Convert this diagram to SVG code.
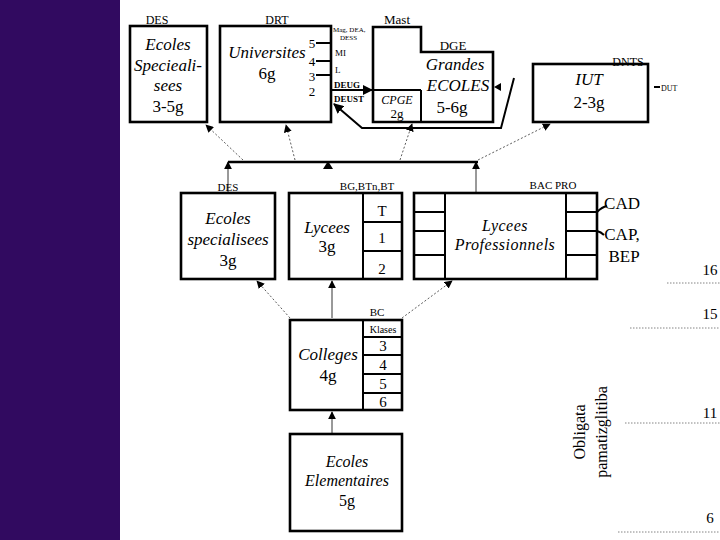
<svg xmlns="http://www.w3.org/2000/svg" width="720" height="540" viewBox="0 0 720 540" font-family="'Liberation Serif', 'Times New Roman', serif">
<style>
text{font-family:'Liberation Serif','Times New Roman',serif;fill:#000;text-anchor:middle}
.box{fill:#fff;stroke:#000;stroke-width:2.6}
.ln{fill:none;stroke:#000;stroke-width:2}
.i{font-style:italic}
.big{font-size:17px}
.md{font-size:15px}
.sm{font-size:11px}
.st{text-anchor:start}
.thin{fill:none;stroke:#000;stroke-width:0.8}
.dot{fill:none;stroke:#333;stroke-width:0.8;stroke-dasharray:2,2}
.grade{fill:none;stroke:#666;stroke-width:0.8;stroke-dasharray:1.5,1.5}
</style>
<defs>
<marker id="ah" viewBox="0 0 10 10" refX="9" refY="5" markerWidth="8" markerHeight="8" markerUnits="userSpaceOnUse" orient="auto"><path d="M0,0 L10,5 L0,10 z" fill="#000"/></marker>
<marker id="ahb" viewBox="0 0 10 10" refX="9" refY="5" markerWidth="10" markerHeight="10" markerUnits="userSpaceOnUse" orient="auto"><path d="M0,0 L10,5 L0,10 z" fill="#000"/></marker>
</defs>
<rect x="0" y="0" width="720" height="540" fill="#fff"/>
<rect x="0" y="0" width="120" height="540" fill="#310a60"/>

<g id="connectors">
<line x1="228" y1="162" x2="478" y2="162" stroke="#000" stroke-width="2.6"/>
<line x1="228" y1="193" x2="228" y2="162" class="thin" marker-end="url(#ah)"/>
<polygon points="323,169 333,169 328,161" fill="#000"/>
<line x1="476" y1="193" x2="476" y2="162" class="thin" marker-end="url(#ah)"/>
<line x1="243" y1="160" x2="206" y2="125" class="dot" marker-end="url(#ah)"/>
<line x1="295" y1="160" x2="286" y2="125" class="dot" marker-end="url(#ah)"/>
<line x1="400" y1="160" x2="412" y2="124" class="dot" marker-end="url(#ah)"/>
<line x1="478" y1="160" x2="550" y2="124" class="dot" marker-end="url(#ah)"/>
<line x1="332" y1="318" x2="332" y2="281" class="thin" marker-end="url(#ah)"/>
<line x1="290" y1="318" x2="257" y2="281" class="dot" marker-end="url(#ah)"/>
<line x1="402" y1="318" x2="452" y2="281" class="dot" marker-end="url(#ah)"/>
<line x1="332" y1="434" x2="332" y2="412" class="thin" marker-end="url(#ah)"/>
<line x1="316" y1="90" x2="372" y2="90" class="ln" marker-end="url(#ahb)"/>
<polyline points="514,78 501,128 362,128 334,104" class="ln" stroke-width="2.6" marker-end="url(#ahb)"/>
<polygon points="494,87 501,83 501,91" fill="#000"/>
</g>

<g id="ecoles-specieali">
<rect x="130" y="26" width="77" height="96" class="box"/>
<text x="157" y="24" font-size="12">DES</text>
<text x="168" y="50" class="i big">Ecoles</text>
<text x="168" y="71" class="i big">Specieali-</text>
<text x="168" y="91" class="i big">sees</text>
<text x="168" y="112" class="big">3-5g</text>
</g>

<g id="universites">
<rect x="220" y="26" width="111" height="96" class="box"/>
<text x="277" y="24" font-size="12">DRT</text>
<text x="267" y="58" class="i big">Universites</text>
<text x="267" y="79" class="big">6g</text>
<line x1="316" y1="43" x2="331" y2="43" class="ln"/>
<line x1="316" y1="61" x2="331" y2="61" class="ln"/>
<line x1="316" y1="75" x2="331" y2="75" class="ln"/>
<text x="312" y="48" font-size="13">5</text>
<text x="312" y="66" font-size="13">4</text>
<text x="312" y="81" font-size="13">3</text>
<text x="312" y="96" font-size="13">2</text>
<text x="333" y="32" font-size="7" class="st">Mag, DEA,</text>
<text x="340" y="40" font-size="7" class="st">DESS</text>
<text x="335" y="56" font-size="9" class="st">MI</text>
<text x="335" y="73" font-size="9" class="st">L</text>
<text x="334" y="88" font-size="9" font-weight="bold" class="st">DEUG</text>
<text x="334" y="102" font-size="9" font-weight="bold" class="st">DEUST</text>
</g>

<g id="grandes-ecoles">
<polygon points="373,27 421,27 421,52 493,52 493,122 373,122" class="box"/>
<line x1="373" y1="90" x2="421" y2="90" class="ln"/>
<line x1="421" y1="90" x2="421" y2="122" class="ln"/>
<text x="397" y="24" font-size="13">Mast</text>
<text x="453" y="50" font-size="13">DGE</text>
<text x="455" y="70" class="i big">Grandes</text>
<text x="458" y="91" class="i big">ECOLES</text>
<text x="452" y="113" class="big">5-6g</text>
<text x="397" y="104" class="i" font-size="12">CPGE</text>
<text x="397" y="118" font-size="13">2g</text>
</g>

<g id="iut">
<rect x="533" y="64" width="115" height="58" class="box"/>
<text x="628" y="66" font-size="12">DNTS</text>
<text x="589" y="85" class="i big">IUT</text>
<text x="589" y="108" class="big">2-3g</text>
<line x1="654" y1="87" x2="660" y2="87" class="ln"/>
<text x="661" y="91" font-size="8" class="st">DUT</text>
</g>

<g id="ecoles-specialisees">
<rect x="181" y="193" width="94" height="86" class="box"/>
<text x="228" y="191" class="sm">DES</text>
<text x="228" y="224" class="i big">Ecoles</text>
<text x="228" y="245" class="i big">specialisees</text>
<text x="228" y="266" class="big">3g</text>
</g>

<g id="lycees">
<rect x="289" y="193" width="113" height="86" class="box"/>
<line x1="363" y1="193" x2="363" y2="279" class="ln"/>
<line x1="363" y1="222" x2="402" y2="222" class="ln"/>
<line x1="363" y1="251" x2="402" y2="251" class="ln"/>
<text x="367" y="190" class="sm">BG,BTn,BT</text>
<text x="327" y="233" class="i big">Lycees</text>
<text x="327" y="252" class="big">3g</text>
<text x="382" y="216" class="md">T</text>
<text x="382" y="243" class="md">1</text>
<text x="382" y="274" class="md">2</text>
</g>

<g id="lycees-professionnels">
<rect x="414" y="193" width="183" height="86" class="box"/>
<line x1="445" y1="193" x2="445" y2="279" class="ln"/>
<line x1="566" y1="193" x2="566" y2="279" class="ln"/>
<line x1="414" y1="212" x2="445" y2="212" class="ln"/>
<line x1="414" y1="231" x2="445" y2="231" class="ln"/>
<line x1="414" y1="255" x2="445" y2="255" class="ln"/>
<line x1="566" y1="212" x2="597" y2="212" class="ln"/>
<line x1="566" y1="231" x2="597" y2="231" class="ln"/>
<line x1="566" y1="255" x2="597" y2="255" class="ln"/>
<text x="553" y="189" class="sm">BAC PRO</text>
<text x="505" y="231" class="i" font-size="16" letter-spacing="0.5">Lycees</text>
<text x="505" y="250" class="i" font-size="16" letter-spacing="0.5">Professionnels</text>
<path d="M597,212 Q602,207 607,206" class="ln" stroke-width="1.5"/>
<path d="M597,231 Q601,232 604,235" class="ln" stroke-width="1.5"/>
<text x="622" y="209" class="big">CAD</text>
<text x="622" y="240" class="big">CAP,</text>
<text x="624" y="262" class="big">BEP</text>
</g>

<g id="colleges">
<rect x="290" y="320" width="112" height="90" class="box"/>
<line x1="363" y1="320" x2="363" y2="410" class="ln"/>
<line x1="363" y1="337" x2="402" y2="337" class="ln"/>
<line x1="363" y1="355" x2="402" y2="355" class="ln"/>
<line x1="363" y1="374" x2="402" y2="374" class="ln"/>
<line x1="363" y1="393" x2="402" y2="393" class="ln"/>
<text x="377" y="316" class="sm">BC</text>
<text x="383" y="333" font-size="10">Klases</text>
<text x="328" y="360" class="i big">Colleges</text>
<text x="328" y="381" class="big">4g</text>
<text x="383" y="351" class="md">3</text>
<text x="383" y="370" class="md">4</text>
<text x="383" y="389" class="md">5</text>
<text x="383" y="407" class="md">6</text>
</g>

<g id="ecoles-elementaires">
<rect x="290" y="434" width="112" height="97" class="box"/>
<text x="347" y="467" class="i" font-size="16">Ecoles</text>
<text x="347" y="486" class="i" font-size="16">Elementaires</text>
<text x="347" y="506" font-size="16">5g</text>
</g>

<g id="grades">
<text x="710" y="275" class="md">16</text>
<line x1="667" y1="283" x2="720" y2="283" class="grade"/>
<text x="710" y="319" class="md">15</text>
<line x1="630" y1="328" x2="720" y2="328" class="grade"/>
<text x="710" y="418" class="md">11</text>
<line x1="625" y1="423" x2="720" y2="423" class="grade"/>
<text x="710" y="523" class="md">6</text>
<line x1="618" y1="532" x2="720" y2="532" class="grade"/>
<text transform="translate(585,432) rotate(-90)" font-size="16">Obligata</text>
<text transform="translate(607,432) rotate(-90)" font-size="16">pamatizglitiba</text>
</g>
</svg>
